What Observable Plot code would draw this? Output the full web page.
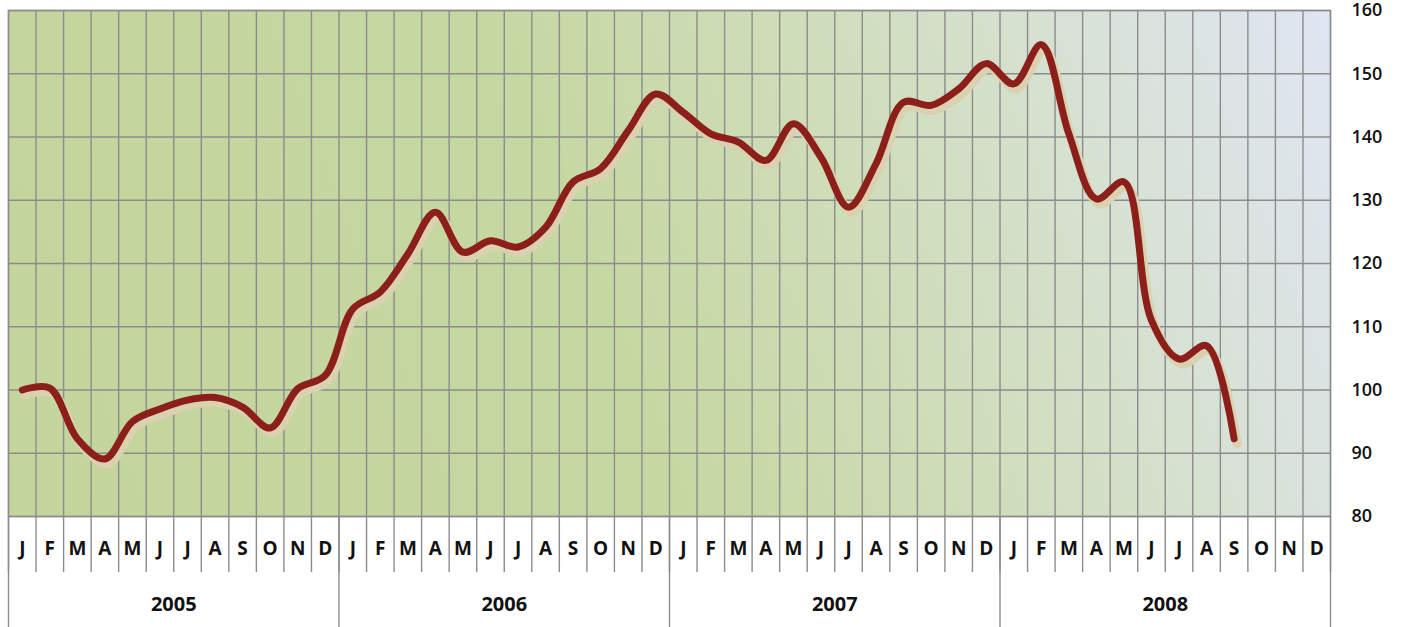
<!DOCTYPE html>
<html>
<head>
<meta charset="utf-8">
<script src="https://cdn.jsdelivr.net/npm/d3@7"></script>
<script src="https://cdn.jsdelivr.net/npm/@observablehq/plot@0.6"></script>
<style>
  html, body { margin: 0; padding: 0; background: #ffffff; }
  #chart svg { display: block; }
</style>
</head>
<body>
<div id="chart"></div>
<script>
const monthLetters = ["J","F","M","A","M","J","J","A","S","O","N","D"];
const years = ["2005","2006","2007","2008"];
const values2005 = [100, 100.3, 92.3, 89.1, 95, 97, 98.4, 98.8, 97.3, 94, 100.2, 102.3];
const values2006 = [112.8, 115.5, 121.5, 128.1, 121.8, 123.6, 122.6, 125.7, 132.9, 135, 141, 146.8];
const values2007 = [143.9, 140.5, 139.2, 136.3, 142.1, 136.8, 128.9, 135.8, 145.5, 145, 147.6, 151.6];
const values2008 = [148.4, 154.6, 140.5, 130.2, 132.9, 111, 104.9, 107, 92.3];
const yTicks = [80, 90, 100, 110, 120, 130, 140, 150, 160];

const values = [...values2005, ...values2006, ...values2007, ...values2008];
const data = values.map((v, i) => ({t: i + 0.5, v}));
const nMonths = monthLetters.length * years.length;
const boundaries = d3.range(0, nMonths + 1);
const monthCenters = d3.range(0, nMonths).map(i => i + 0.5);
const yearBounds = d3.range(0, years.length + 1).map(i => i * 12);
const yearCenters = years.map((y, i) => i * 12 + 6);

const grid = "#8c8c8c";
const font = "'Open Sans', 'DejaVu Sans', sans-serif";

const chart = Plot.plot({
  width: 1403,
  height: 627,
  marginLeft: 8,
  marginRight: 73,
  marginTop: 10,
  marginBottom: 111,
  style: {fontFamily: font, background: "#ffffff", overflow: "visible"},
  x: {domain: [0, nMonths], axis: null},
  y: {domain: [80, 160], axis: null},
  marks: [
    Plot.frame({fill: "url(#bgGrad)", stroke: "none"}),
    Plot.ruleX(boundaries, {stroke: grid, strokeWidth: 1.4}),
    Plot.ruleY(yTicks, {stroke: grid, strokeWidth: 1.4}),
    // month separator ticks
    Plot.axisX(boundaries, {anchor: "bottom", tickSize: 56, tickFormat: () => "", stroke: grid, strokeWidth: 1.4, label: null}),
    // year separators
    Plot.axisX(yearBounds, {anchor: "bottom", tickSize: 111, tickFormat: () => "", stroke: grid, strokeWidth: 1.4, label: null}),
    // month labels
    Plot.axisX(monthCenters, {anchor: "bottom", tickSize: 0, tickPadding: 25, tickFormat: (d) => monthLetters[Math.floor(d) % 12], fontSize: 19, fontWeight: "bold", fill: "#111", label: null}),
    // year labels
    Plot.axisX(yearCenters, {anchor: "bottom", tickSize: 0, tickPadding: 80, tickFormat: (d) => years[Math.floor(d / 12)], fontSize: 20, fontWeight: "bold", fill: "#111", label: null}),
    // y labels on the right
    Plot.axisY(yTicks, {anchor: "right", tickSize: 0, tickPadding: 21, textAnchor: "start", fontSize: 18, fontWeight: 600, fill: "#111", label: null, style: {letterSpacing: "1.5px"}}),
    // shadow line
    Plot.line(data, {x: "t", y: "v", curve: "catmull-rom", stroke: "#d9d1b0", strokeWidth: 9, strokeLinecap: "round", strokeLinejoin: "round", dx: 3, dy: 5}),
    // main line
    Plot.line(data, {x: "t", y: "v", curve: "catmull-rom", stroke: "#8c1f1a", strokeWidth: 7, strokeLinecap: "round", strokeLinejoin: "round"}),
    Plot.frame({stroke: grid, strokeWidth: 1.4, fill: "none"})
  ]
});

// gradient background for the plot area
const ns = "http://www.w3.org/2000/svg";
const defs = document.createElementNS(ns, "defs");
const grad = document.createElementNS(ns, "linearGradient");
grad.setAttribute("id", "bgGrad");
grad.setAttribute("gradientUnits", "userSpaceOnUse");
grad.setAttribute("x1", "8"); grad.setAttribute("y1", "516");
grad.setAttribute("x2", "1330"); grad.setAttribute("y2", "10");
[["0", "#c3d59b"], ["0.45", "#c6d8a2"], ["0.72", "#d3dfc4"], ["1", "#e0e6f3"]].forEach(([o, c]) => {
  const s = document.createElementNS(ns, "stop");
  s.setAttribute("offset", o); s.setAttribute("stop-color", c);
  grad.appendChild(s);
});
defs.appendChild(grad);
chart.insertBefore(defs, chart.firstChild);

document.getElementById("chart").appendChild(chart);
</script>
</body>
</html>
